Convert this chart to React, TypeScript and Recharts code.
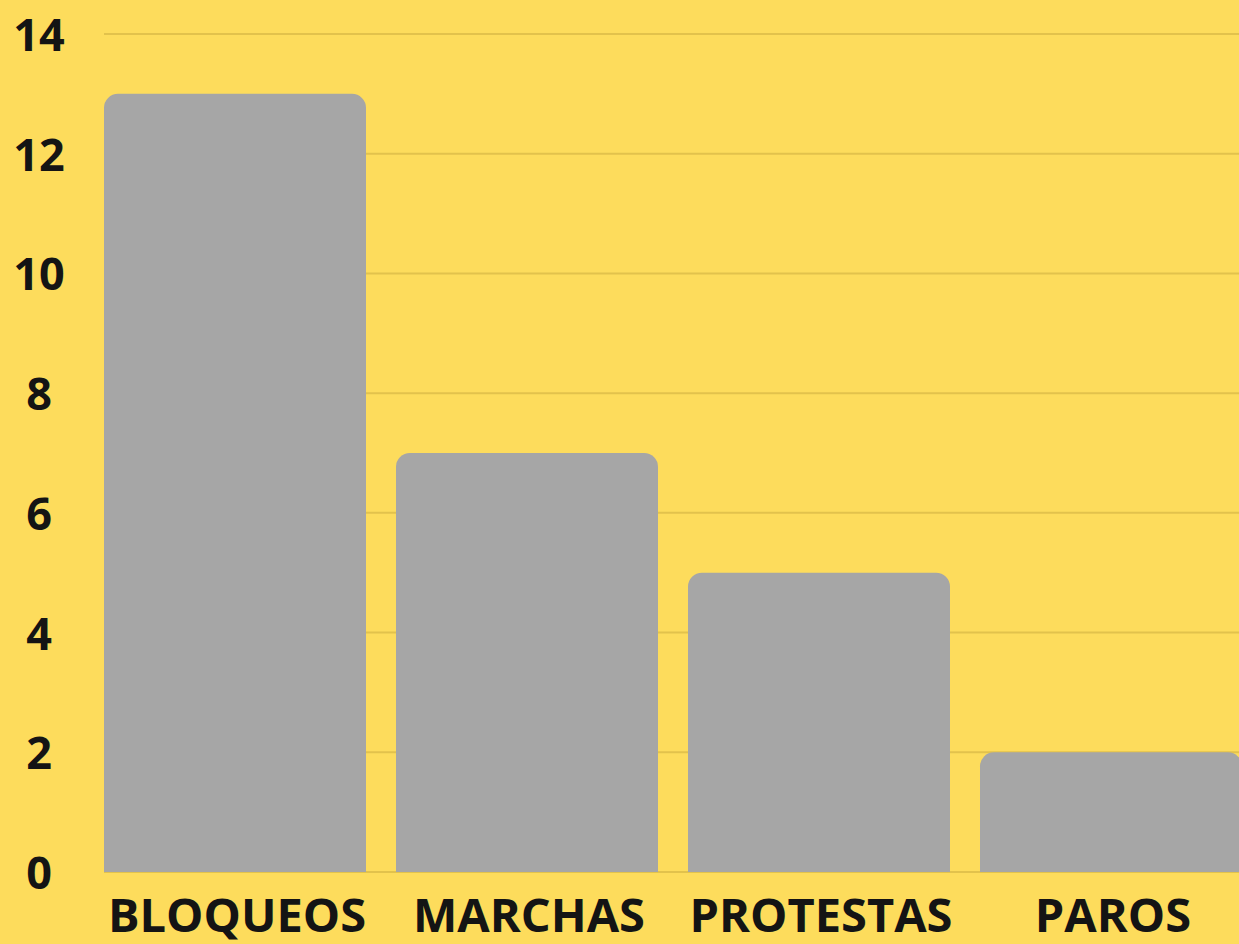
import { BarChart, Bar, XAxis, YAxis, CartesianGrid } from "recharts";

const categories = ["BLOQUEOS", "MARCHAS", "PROTESTAS", "PAROS"];
const counts = [13, 7, 5, 2];
const yTicks = [0, 2, 4, 6, 8, 10, 12, 14];

const chartData = categories.map((name, i) => ({ name, value: counts[i] }));

const BG = "#FDDC5C";
const BAR = "#A6A6A6";
const GRID = "#E2C24C";
const TEXT = "#141414";
const FONT = "'Open Sans', sans-serif";

const YTick = ({ y, payload }: any) => (
  <text
    x={39}
    y={y + 17}
    textAnchor="middle"
    fontFamily={FONT}
    fontWeight={700}
    fontSize={45}
    fill={TEXT}
  >
    {payload.value}
  </text>
);

// tick y already sits a few px below the baseline
const XTick = ({ x, y, payload }: any) => (
  <text
    x={x + 2}
    y={y + 52}
    textAnchor="middle"
    fontFamily={FONT}
    fontWeight={700}
    fontSize={47}
    fill={TEXT}
  >
    {payload.value}
  </text>
);

export default function App() {
  return (
    <div
      style={{
        position: "fixed",
        left: 0,
        top: 0,
        width: 1239,
        height: 944,
        overflow: "hidden",
        background: BG,
      }}
    >
      <BarChart
        width={1260}
        height={944}
        data={chartData}
        margin={{ top: 34, right: 3, left: 0, bottom: 0 }}
      >
        <CartesianGrid
          vertical={false}
          stroke={GRID}
          strokeWidth={2}
          x={104}
          width={1160}
        />
        <XAxis
          dataKey="name"
          height={72}
          axisLine={false}
          tickLine={false}
          tick={<XTick />}
          interval={0}
        />
        <YAxis
          width={89}
          domain={[0, 14]}
          ticks={yTicks}
          axisLine={false}
          tickLine={false}
          tick={<YTick />}
        />
        <Bar
          dataKey="value"
          fill={BAR}
          barSize={262}
          radius={[14, 14, 0, 0]}
          isAnimationActive={false}
        />
      </BarChart>
    </div>
  );
}
